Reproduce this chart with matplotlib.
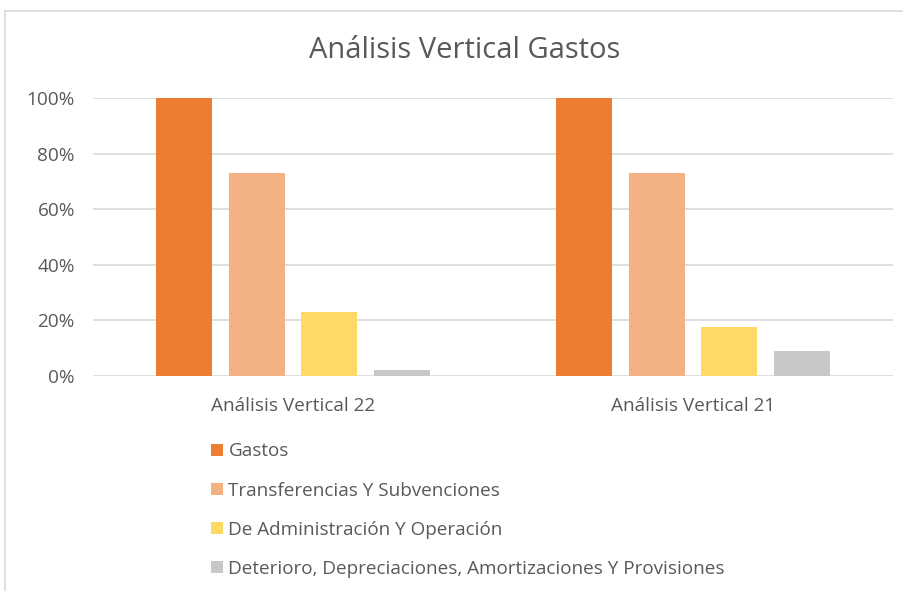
import matplotlib
matplotlib.use("Agg")
import matplotlib.pyplot as plt
from matplotlib.lines import Line2D
from matplotlib.patches import Patch
from matplotlib.ticker import PercentFormatter
import numpy as np

# data
groups = ["Análisis Vertical 22", "Análisis Vertical 21"]
series = ["Gastos", "Transferencias Y Subvenciones",
          "De Administración Y Operación",
          "Deterioro, Depreciaciones, Amortizaciones Y Provisiones"]
gastos = [1.00, 1.00]
transferencias = [0.73, 0.73]
administracion = [0.231, 0.175]
deterioro = [0.022, 0.091]
values = [gastos, transferencias, administracion, deterioro]
colors = ["#ED7D31", "#F4B183", "#FFD966", "#C8C8C8"]

text_color = "#595959"
grid_color = "#D9D9D9"
plt.rcParams['font.family'] = ['Open Sans', 'DejaVu Sans']

fig = plt.figure(figsize=(9.04, 5.91), dpi=100)
W, H = 904, 591
ax = fig.add_axes([93 / W, 1 - 376 / H, 800 / W, 278 / H])

x = np.arange(len(groups))
width = 0.14
step = 0.181
for i, (vals, col) in enumerate(zip(values, colors)):
    ax.bar(x + (i - 1.5) * step, vals, width, color=col, label=series[i], zorder=3)

ax.set_xlim(-0.5, 1.5)
ax.set_ylim(0, 1)
ax.set_yticks(np.arange(0, 1.01, 0.2))
ax.yaxis.set_major_formatter(PercentFormatter(1.0, decimals=0))
ax.set_xticks(x)
ax.set_xticklabels(groups)
ax.grid(axis="y", color=grid_color, linewidth=1.2, zorder=0)
ax.tick_params(length=0, colors=text_color, labelsize=13.7)
ax.tick_params(axis="x", pad=15)
ax.tick_params(axis="y", pad=13)
for s in ax.spines.values():
    s.set_visible(False)

fig.text(465 / W, 1 - 51 / H, "Análisis Vertical Gastos", ha="center", va="center",
         fontsize=21, color=text_color)

handles = [Patch(facecolor=c, edgecolor="none") for c in colors]
leg = fig.legend(handles, series, loc="upper left", bbox_to_anchor=(202 / W, 1 - 433 / H),
                 frameon=False, fontsize=13.6, handlelength=0.6, handleheight=0.6,
                 handletextpad=0.3, labelspacing=1.12, borderpad=0)
for t in leg.get_texts():
    t.set_color(text_color)

# chart border (cut off at right and bottom)
fig.add_artist(Line2D([5 / W, 5 / W], [0, 1 - 11 / H], color=grid_color, linewidth=1.2))
fig.add_artist(Line2D([5 / W, 1], [1 - 11 / H, 1 - 11 / H], color=grid_color, linewidth=1.2))

fig.savefig("out.png", dpi=100)
